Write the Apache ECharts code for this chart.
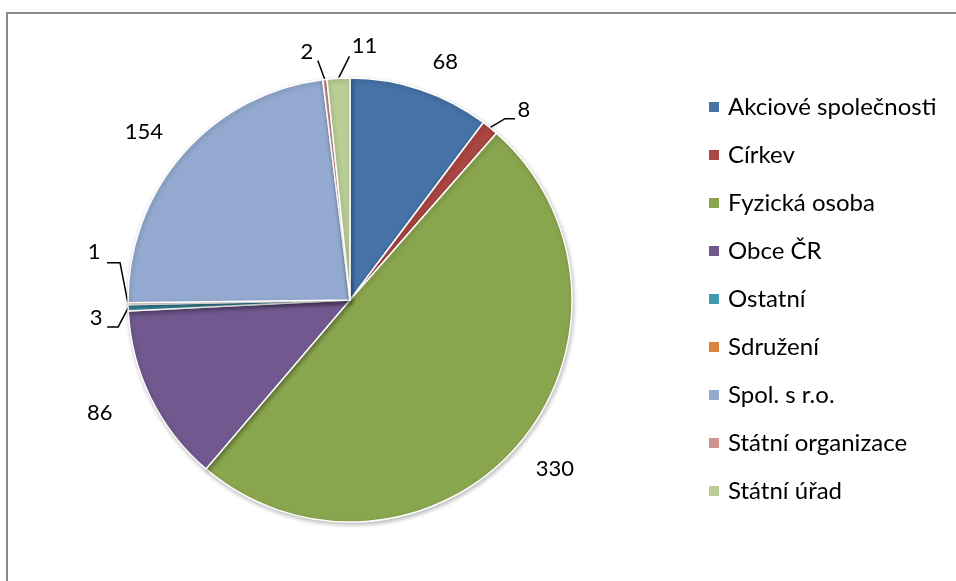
<!DOCTYPE html>
<html>
<head>
<meta charset="utf-8">
<script src="https://cdn.jsdelivr.net/npm/echarts@6/dist/echarts.min.js"></script>
<style>
  html, body { margin: 0; padding: 0; background: #fff; }
  #chart { width: 956px; height: 581px; }
</style>
</head>
<body>
<div id="chart"></div>
<script>
// Owner categories and their counts
const categories = [
  'Akciové společnosti', 'Církev', 'Fyzická osoba', 'Obce ČR', 'Ostatní',
  'Sdružení', 'Spol. s r.o.', 'Státní organizace', 'Státní úřad'
];
const counts = [68, 8, 330, 86, 3, 1, 154, 2, 11];
const colors = [
  '#4572A7', '#AA4643', '#89A54E', '#71588F', '#4198AF',
  '#DB843D', '#93A9CF', '#D19392', '#B9CD96'
];

// Label centre, as an offset from the point where the slice's mid-angle meets the rim
const labelOffset = [
  [25, -28], [34, -18], [37, 24], [-51, 15], [-32, 10],
  [-34, -52], [-39, -22], [-18, -28], [26, -32]
];
// Leader line bends (offsets from the rim point); null = no leader line
const leaderBends = [
  null, [[15, -9], [25, -9]], null, null, [[-10, 19], [-21, 19]],
  [[-8, -41], [-21, -41]], null, [[-7, -19], [-7, -19]], [[11, -22], [11, -22]]
];

const FONT = 'Lato';
const CENTER = [350, 300];
const RADIUS = 222;

// Rim point at the middle angle of each slice (clockwise from 12 o'clock)
const total = counts.reduce((a, b) => a + b, 0);
const rimPoints = [];
let acc = 0;
counts.forEach(v => {
  const mid = (acc + v / 2) / total * 2 * Math.PI;
  rimPoints.push([CENTER[0] + RADIUS * Math.sin(mid), CENTER[1] - RADIUS * Math.cos(mid)]);
  acc += v;
});

const chart = echarts.init(document.getElementById('chart'), null, { renderer: 'canvas' });

const data = categories.map((name, i) => ({
  name: name,
  value: counts[i],
  itemStyle: { color: colors[i] },
  labelLine: { show: leaderBends[i] !== null }
}));

chart.setOption({
  animation: false,
  backgroundColor: '#fff',
  graphic: [{
    type: 'rect',
    shape: { x: 7, y: 13, width: 1000, height: 1000 },
    style: { fill: 'none', stroke: '#898989', lineWidth: 2 },
    silent: true
  }],
  legend: {
    orient: 'vertical',
    left: 707,
    top: 95,
    padding: 0,
    itemWidth: 12,
    itemHeight: 12,
    itemGap: 24,
    icon: 'rect',
    data: categories,
    textStyle: { fontFamily: FONT, fontSize: 24, color: '#000', lineHeight: 24, padding: [0, 0, 0, 3] }
  },
  series: [{
    type: 'pie',
    center: CENTER,
    radius: RADIUS,
    startAngle: 90,
    clockwise: true,
    avoidLabelOverlap: false,
    data: data,
    itemStyle: {
      borderColor: '#fff',
      borderWidth: 1.5,
      shadowColor: 'rgba(0,0,0,0.25)',
      shadowBlur: 4,
      shadowOffsetX: 1,
      shadowOffsetY: 2
    },
    label: {
      show: true,
      position: 'outside',
      formatter: '{c}',
      fontFamily: FONT,
      fontSize: 22,
      color: '#000'
    },
    labelLine: {
      length: 18,
      length2: 12,
      lineStyle: { color: '#000', width: 1.5 }
    },
    labelLayout: function (params) {
      const i = params.dataIndex;
      const p0 = rimPoints[i];
      const out = {
        x: p0[0] + labelOffset[i][0],
        y: p0[1] + labelOffset[i][1],
        align: 'center',
        verticalAlign: 'middle'
      };
      if (leaderBends[i]) {
        out.labelLinePoints = [p0].concat(
          leaderBends[i].map(b => [p0[0] + b[0], p0[1] + b[1]])
        );
      }
      return out;
    }
  }]
});
</script>
</body>
</html>
